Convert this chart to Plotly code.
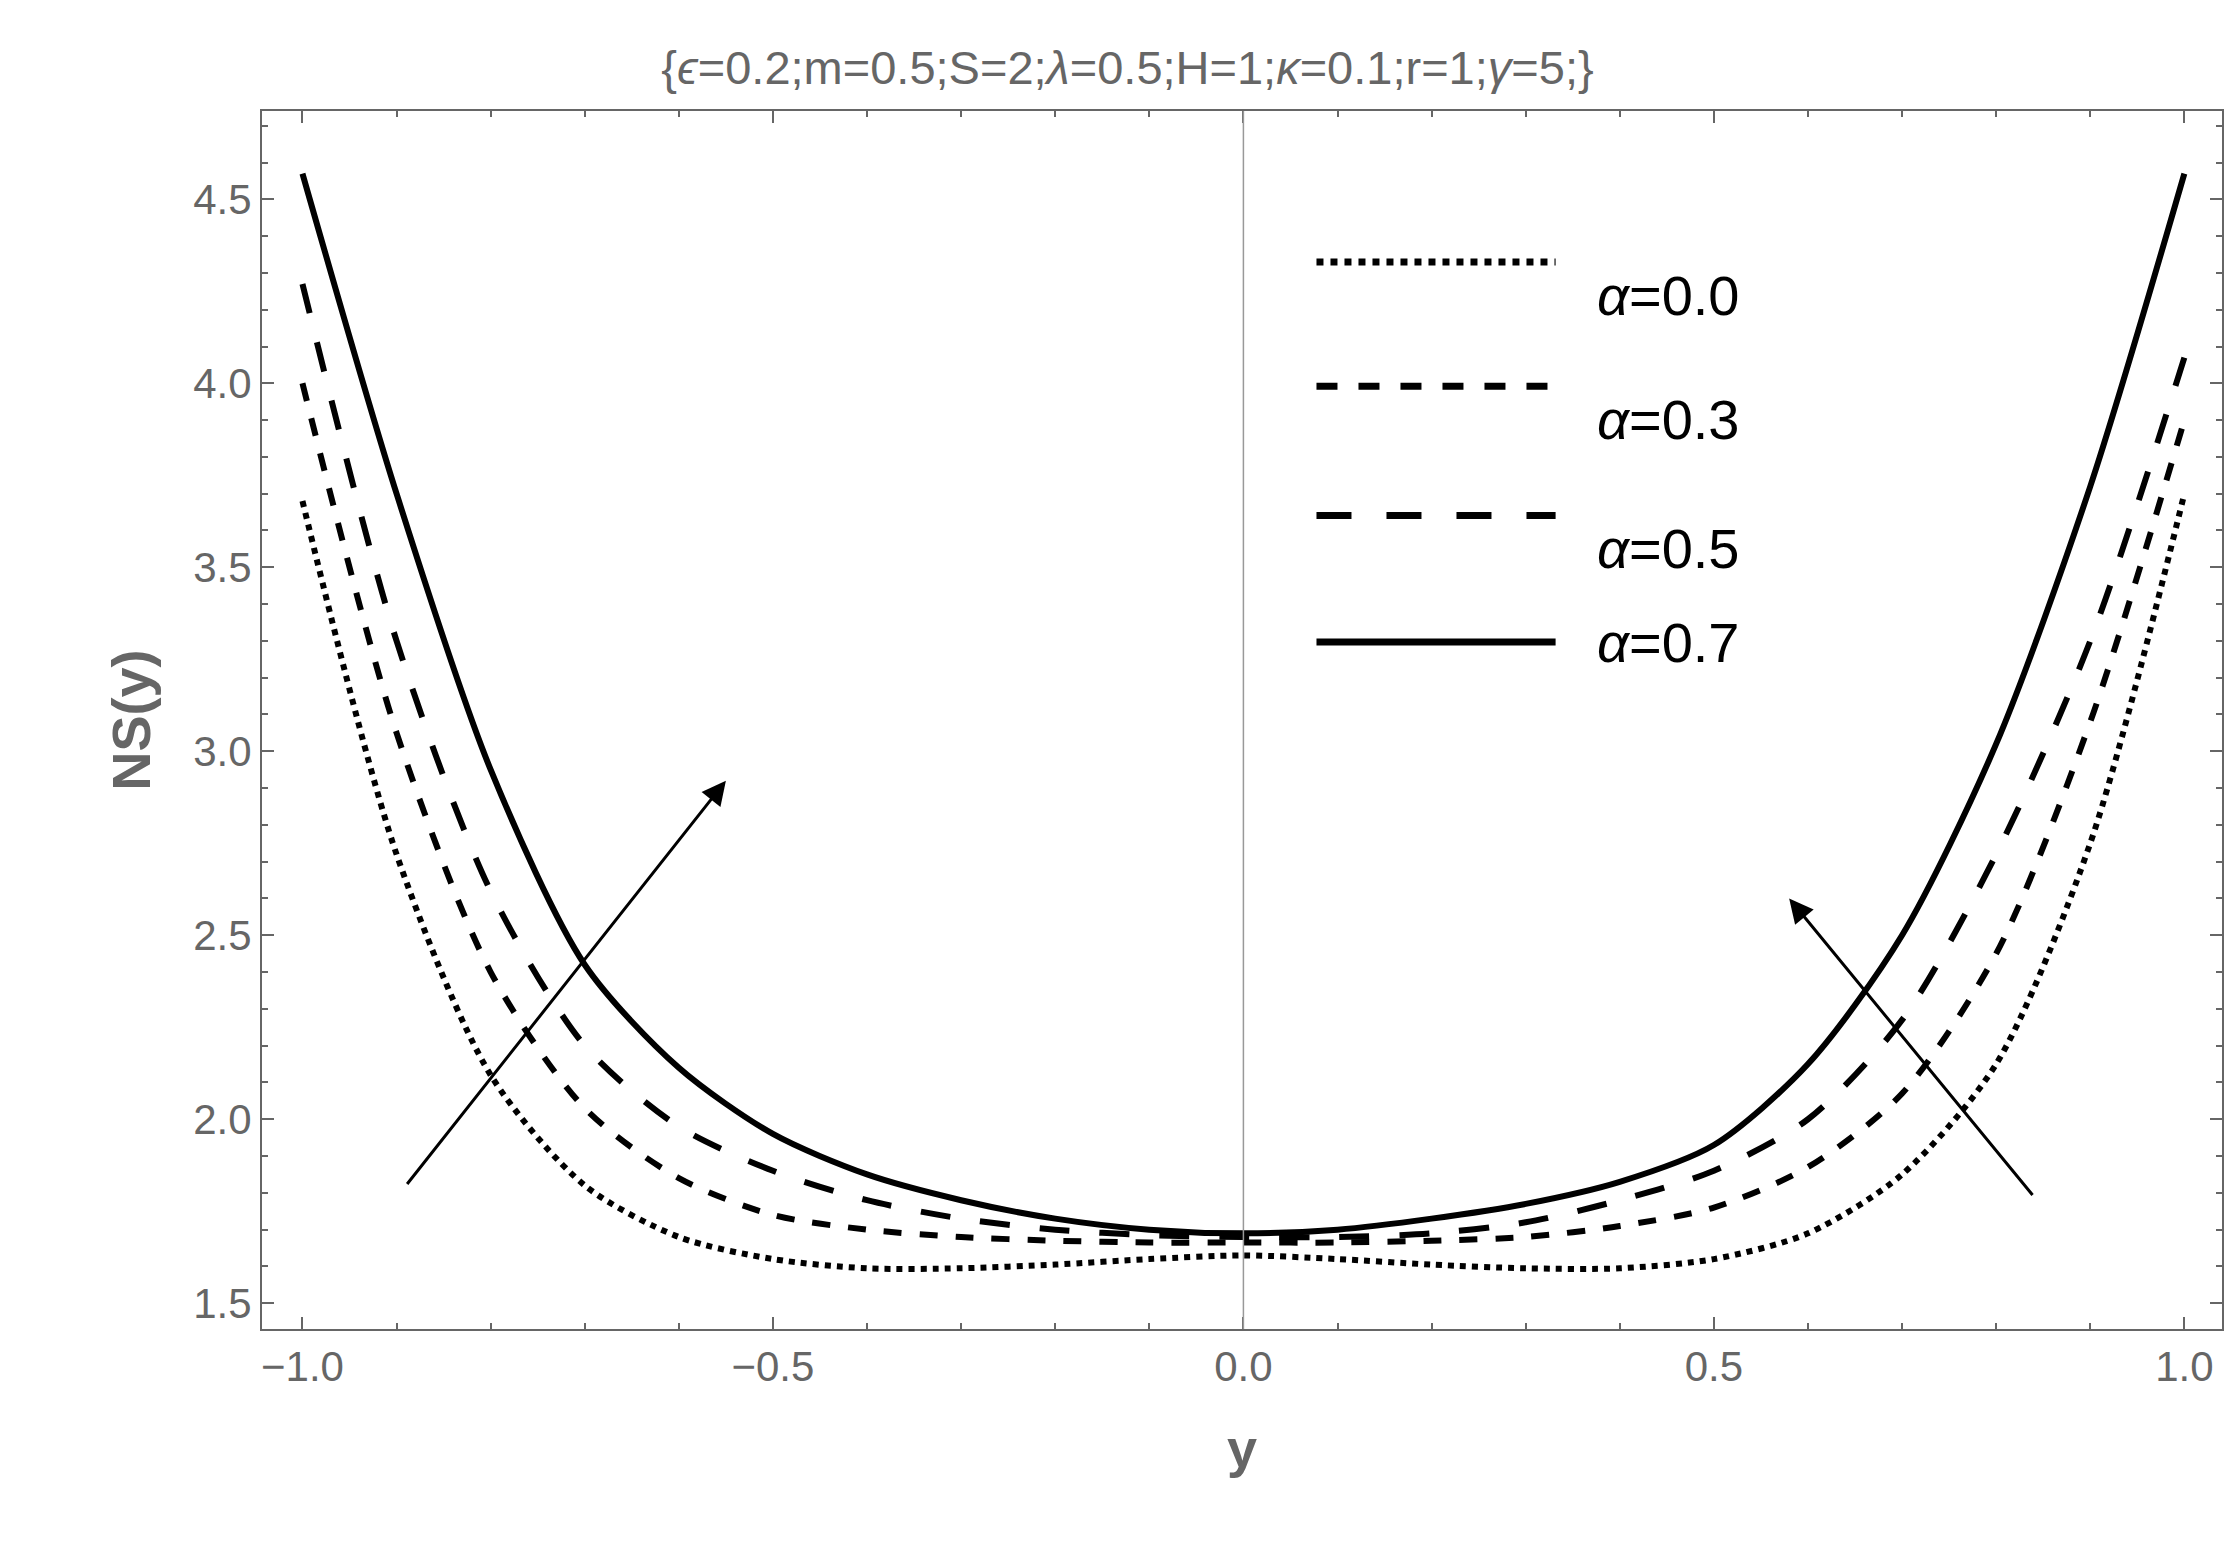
import plotly.graph_objects as go

y_pts = [-1.0, -0.9, -0.8, -0.7, -0.6, -0.5, -0.4, -0.3, -0.2, -0.1, 0.0,
         0.1, 0.2, 0.3, 0.4, 0.5, 0.6, 0.7, 0.8, 0.9, 1.0]

ns_a00 = [3.68, 2.72, 2.12, 1.82, 1.68, 1.62, 1.595, 1.595, 1.605, 1.62, 1.63,
          1.62, 1.605, 1.595, 1.595, 1.62, 1.69, 1.85, 2.15, 2.75, 3.70]
ns_a03 = [4.00, 3.05, 2.40, 2.03, 1.84, 1.74, 1.70, 1.68, 1.67, 1.665, 1.665,
          1.665, 1.67, 1.68, 1.71, 1.76, 1.87, 2.07, 2.45, 3.08, 3.90]
ns_a05 = [4.27, 3.30, 2.62, 2.20, 1.98, 1.86, 1.78, 1.73, 1.70, 1.685, 1.68,
          1.68, 1.69, 1.72, 1.78, 1.86, 2.00, 2.27, 2.72, 3.30, 4.07]
ns_a07 = [4.57, 3.70, 2.95, 2.42, 2.14, 1.96, 1.85, 1.78, 1.73, 1.70, 1.69,
          1.70, 1.73, 1.77, 1.83, 1.93, 2.15, 2.50, 3.02, 3.72, 4.57]

series = [
    ("α=0.0", ns_a00, "dot"),
    ("α=0.3", ns_a03, "dash"),
    ("α=0.5", ns_a05, "longdash"),
    ("α=0.7", ns_a07, "solid"),
]

fig = go.Figure()
for name, vals, dash in series:
    fig.add_trace(go.Scatter(
        x=y_pts, y=vals, mode="lines", name=name, showlegend=False,
        line=dict(color="black", width=6, dash=dash, shape="spline", smoothing=0.8),
    ))

# hand-drawn legend with long line samples, like the original
legend_rows = [0.876, 0.774, 0.668, 0.564]
for (name, _, dash), ly in zip(series, legend_rows):
    fig.add_shape(type="line", xref="paper", yref="paper", x0=0.538, x1=0.66,
                  y0=ly, y1=ly, line=dict(color="black", width=7, dash=dash))
    fig.add_annotation(xref="paper", yref="paper", x=0.68, y=ly, xanchor="left",
                       showarrow=False, text="<i>α</i>" + name[1:],
                       font=dict(size=56, color="black"))

# arrows showing increasing alpha
arrow = dict(showarrow=True, arrowhead=2, arrowsize=1.6, arrowwidth=3,
             arrowcolor="black", text="", xref="x", yref="y", axref="x", ayref="y")
fig.add_annotation(x=-0.55, y=2.92, ax=-0.89, ay=1.82, **arrow)
fig.add_annotation(x=0.58, y=2.6, ax=0.84, ay=1.79, **arrow)

fig.add_shape(type="line", x0=0, x1=0, y0=0, y1=1, yref="paper",
              line=dict(color="#999999", width=1.5))

axis_common = dict(showline=True, linecolor="#666666", linewidth=2, mirror="ticks",
                   ticks="inside", tickcolor="#666666", ticklen=12, tickwidth=2,
                   showgrid=False, zeroline=False,
                   tickfont=dict(family="Liberation Sans, Arial", size=42, color="#666666"))

fig.update_xaxes(range=[-1.043, 1.04], tickvals=[-1, -0.5, 0, 0.5, 1],
                 ticktext=["−1.0", "−0.5", "0.0", "0.5", "1.0"],
                 minor=dict(ticks="inside", ticklen=6, tickcolor="#666666", dtick=0.1),
                 title=dict(text="<b>y</b>", font=dict(size=54, color="#666666"), standoff=40),
                 **axis_common)
fig.update_yaxes(range=[1.43, 4.74], tickvals=[1.5, 2.0, 2.5, 3.0, 3.5, 4.0, 4.5],
                 tickformat=".1f",
                 minor=dict(ticks="inside", ticklen=6, tickcolor="#666666", dtick=0.1),
                 title=dict(text="<b>NS(y)</b>", font=dict(size=54, color="#666666"), standoff=25),
                 **axis_common)

fig.update_layout(
    width=2239, height=1542,
    template="plotly_white",
    font=dict(family="Liberation Sans, Arial", color="#666666"),
    title=dict(text="{<i>ϵ</i>=0.2;m=0.5;S=2;<i>λ</i>=0.5;H=1;<i>κ</i>=0.1;r=1;<i>γ</i>=5;}",
               x=0.5, xanchor="center", y=0.972, font=dict(size=47, color="#666666")),
    margin=dict(l=254, r=25, t=103, b=221),
    showlegend=False,
    plot_bgcolor="white",
)

fig.write_html("out.html")
